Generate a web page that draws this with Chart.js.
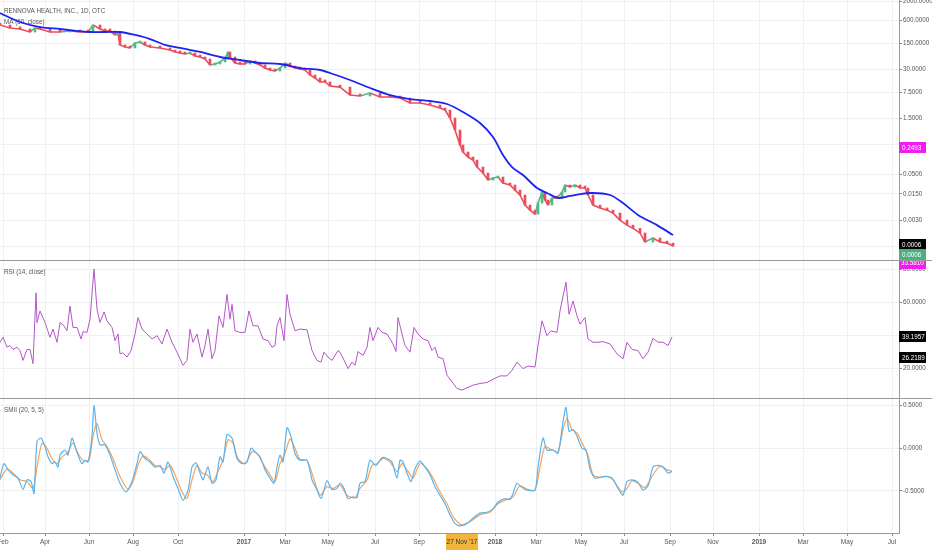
<!DOCTYPE html>
<html>
<head>
<meta charset="utf-8">
<script src="https://cdn.jsdelivr.net/npm/chart.js@4.4.1/dist/chart.umd.min.js"></script>
<style>
  body { margin: 0; background: #fff; overflow: hidden; }
  #wrap { position: relative; width: 932px; height: 550px; }
  canvas { position: absolute; left: 0; }
  .sep { position: absolute; left: 0; width: 932px; height: 1px; background: #9a9a9a; }
</style>
</head>
<body>
<div id="wrap">
  <canvas id="pricePane" width="932" height="260" style="top:0"></canvas>
  <div class="sep" style="top:260px"></div>
  <canvas id="rsiPane" width="932" height="137" style="top:261px"></canvas>
  <div class="sep" style="top:398px"></div>
  <canvas id="smiPane" width="932" height="151" style="top:399px"></canvas>
</div>
<script>
// bar index of each sample (1 bar ~ 1 trading day)
const priceX = [0,10,20,30,35,40,50,60,70,80,88,93,100,105,110,115,118,120,125,130,
  135,140,145,150,160,170,175,180,185,190,195,200,205,210,215,220,225,228,230,235,
  240,245,250,255,260,265,270,275,280,285,290,295,300,305,310,315,320,325,330,340,
  350,360,370,380,390,400,410,420,430,440,445,450,455,460,463,468,473,477,483,488,
  493,498,503,510,515,520,525,530,535,538,542,545,548,552,557,562,565,570,575,580,
  585,588,593,600,607,613,620,627,633,640,645,653,660,667,673];
const priceClose = [461,384,361,300,384,361,300,300,319,300,300,461,361,319,319,250,282,136,120,113,
  153,163,136,120,113,99.8,88.3,83.0,78.0,83.0,69.0,65.0,57.4,39.8,42.3,47.9,61.1,88.3,65.0,45.0,
  42.3,42.3,50.8,45.0,39.8,33.1,29.3,27.5,33.1,45.0,37.4,33.1,31.1,29.3,21.6,17.9,14.1,14.1,11.0,10.3,
  6.34,5.96,7.16,5.61,5.61,5.27,3.88,3.88,3.44,2.86,2.53,1.55,0.743,0.296,0.193,0.142,0.118,0.0771,0.0533,0.0348,
  0.0393,0.0418,0.0290,0.0256,0.0188,0.0139,0.0075,0.0055,0.0043,0.0085,0.0167,0.0102,0.0075,0.0116,0.0116,0.0167,0.0256,0.0226,0.0256,0.0213,
  0.0213,0.0139,0.0075,0.0063,0.0055,0.0046,0.0030,0.0022,0.0018,0.00136,0.00078,0.0010,0.00078,0.00073,0.00061];

const maX = [0,20,40,60,90,120,135,150,165,180,200,220,240,260,280,300,320,330,350,370,
  390,410,430,447,463,480,493,503,512,523,537,547,558,570,590,610,623,638,657,673];
const maVal = [962,553,407,361,300,300,250,195,136,113,88.3,65.0,54.1,45.0,42.3,33.1,29.3,24.4,15.9,9.73,
  6.34,4.96,4.39,3.66,2.24,1.14,0.484,0.161,0.0771,0.0472,0.0213,0.0157,0.0116,0.0131,0.0157,0.0139,0.0085,0.0041,0.0022,0.0012];

const rsiX = [0,3,7,10,13,17,20,23,27,30,33,36,37,40,45,50,53,57,60,64,
  67,70,73,77,81,83,87,90,94,97,100,104,107,112,115,118,120,123,127,131,
  135,138,142,147,152,157,162,167,172,177,183,187,190,193,197,202,205,208,212,215,
  219,223,227,230,232,235,240,245,249,253,258,263,268,272,275,277,280,284,287,290,
  295,300,307,312,317,321,324,328,332,335,338,
  340,345,348,352,355,358,363,367,370,373,378,382,387,390,393,396,398,402,405,410,
  414,418,423,428,432,435,438,443,447,452,457,462,467,473,480,487,493,500,507,512,
  517,523,528,535,538,542,547,551,557,560,563,566,569,573,577,580,585,588,593,598,
  603,610,617,623,627,632,638,643,648,653,658,663,668,672];
const rsiVal = [36,39,33,34,31.6,33,31,25,31.6,31.6,23,66,48,55,48,39,44,36,48,46,
  43,58,45,45,38,42.4,42,50,80.4,56,48,54.4,49,45,37,41,29,29.6,27,31,
  41,51,44,41,38,40,35,44,36,30,22,25,44,36,41,27,34,44,26,31,
  52,45,65,50,59,43,42,42,55,46,46,38,37,33,34,46,51,37,65,53,
  43,44,43.6,31,25,24,30,27,25,28,31,
  30,24,20,24,22,30.4,28,33,45,37,45,42,41,38,35,30.4,51,41,34,30,
  45,41,38,37,31,33,27,26,16,12,8,7,8.4,10,11,11.6,13.6,15.6,15.6,19,
  24,20,21.6,21,34,49,40,43,42,55,64,72.4,53,61,52,47,51,38,36,36,
  36.4,35,29,26,36,31.6,31,26,30,38.4,36,36,34,39.2];

const smiX = [0,4,8,13,18,23,27,31,34,37,41,45,48,52,55,58,60,65,68,72,
  75,78,82,85,88,92,94,97,100,105,110,115,120,126,132,137,140,145,150,155,
  160,164,168,173,178,183,188,192,196,200,203,208,212,216,220,223,227,232,237,242,
  247,251,255,260,265,270,274,277,280,283,287,291,295,300,307,312,317,321,324,327,
  332,337,
  340,344,348,353,357,360,365,370,376,382,387,392,397,400,403,407,411,415,420,425,
  430,435,440,445,450,455,460,467,473,480,487,493,498,505,510,513,517,522,527,535,
  538,543,547,553,558,563,566,569,573,577,582,586,590,595,600,605,612,618,623,627,
  632,638,643,648,653,658,663,668,672];
const smiVal = [-0.35,-0.18,-0.25,-0.31,-0.35,-0.48,-0.37,-0.39,-0.53,0.08,0.12,0.02,-0.10,-0.18,-0.16,-0.22,-0.08,-0.02,-0.08,0.12,
  0.02,-0.08,-0.18,-0.14,-0.16,0.14,0.50,0.18,0.04,0.04,-0.08,-0.25,-0.41,-0.51,-0.39,-0.18,-0.04,-0.12,-0.16,-0.22,
  -0.20,-0.29,-0.16,-0.33,-0.47,-0.61,-0.49,-0.22,-0.17,-0.29,-0.37,-0.22,-0.41,-0.37,-0.10,-0.16,0.16,0.12,-0.12,-0.18,
  -0.16,0.00,-0.04,-0.10,-0.25,-0.35,-0.41,-0.22,-0.08,-0.16,0.24,0.14,-0.06,-0.14,-0.14,-0.37,-0.49,-0.59,-0.49,-0.38,
  -0.48,-0.47,
  -0.41,-0.47,-0.59,-0.57,-0.58,-0.41,-0.39,-0.14,-0.20,-0.11,-0.12,-0.16,-0.35,-0.14,-0.16,-0.29,-0.39,-0.24,-0.15,-0.22,
  -0.31,-0.45,-0.55,-0.65,-0.78,-0.88,-0.91,-0.88,-0.82,-0.76,-0.75,-0.71,-0.63,-0.59,-0.60,-0.53,-0.41,-0.46,-0.49,-0.49,
  -0.22,0.12,-0.02,-0.02,-0.06,0.31,0.48,0.20,0.22,0.14,0.00,-0.02,-0.24,-0.35,-0.34,-0.33,-0.35,-0.47,-0.55,-0.39,
  -0.37,-0.40,-0.49,-0.44,-0.22,-0.20,-0.22,-0.29,-0.27];

const sigX = [0,7,13,20,27,33,37,42,47,52,57,62,67,73,78,83,89,93,97,102,
  107,113,120,128,133,138,143,148,155,160,165,170,175,182,187,192,197,202,207,213,
  218,223,228,233,238,245,252,257,263,270,275,280,285,290,295,300,307,313,320,327,
  333,
  340,347,355,360,367,372,377,383,390,397,402,408,413,420,427,433,440,447,453,462,
  470,480,490,498,507,513,520,527,535,540,545,552,558,563,567,572,577,583,588,593,
  600,607,613,622,627,632,638,645,653,660,667,672];
const sigVal = [-0.37,-0.24,-0.29,-0.37,-0.39,-0.47,-0.22,0.06,0.00,-0.12,-0.18,-0.10,-0.06,0.06,-0.06,-0.14,-0.14,0.14,0.29,0.10,
  0.02,-0.12,-0.33,-0.48,-0.39,-0.20,-0.09,-0.12,-0.20,-0.22,-0.25,-0.20,-0.31,-0.51,-0.59,-0.37,-0.20,-0.29,-0.31,-0.39,
  -0.27,-0.14,0.10,0.06,-0.12,-0.18,-0.04,-0.06,-0.18,-0.31,-0.39,-0.18,-0.06,0.11,0.00,-0.13,-0.14,-0.33,-0.55,-0.45,
  -0.47,
  -0.43,-0.55,-0.58,-0.47,-0.37,-0.20,-0.18,-0.12,-0.16,-0.27,-0.18,-0.27,-0.35,-0.18,-0.24,-0.35,-0.51,-0.65,-0.80,-0.90,
  -0.86,-0.78,-0.75,-0.65,-0.60,-0.57,-0.44,-0.48,-0.49,-0.22,0.02,-0.02,-0.04,0.22,0.35,0.22,0.18,0.04,-0.08,-0.31,
  -0.34,-0.33,-0.37,-0.51,-0.47,-0.38,-0.41,-0.46,-0.31,-0.21,-0.25,-0.27];

// time axis
const tickPos = [3,45,89,133,178,244,285,328,375,419,495,536,581,624,670,713,759,803,847,892];
const tickLabels = ['Feb','Apr','Jun','Aug','Oct','2017','Mar','May','Jul','Sep',
  '2018','Mar','May','Jul','Sep','Nov','2019','Mar','May','Jul'];
const crossX = 462;
const crossLabel = "27 Nov '17";

// axis ticks and last-value tags
const priceTicks = [2000,600,150,30,7.5,1.5,0.3,0.05,0.015,0.003,0.0006];
const rsiTicks = [20,40,60,80];
const smiTicks = [-0.5,0,0.5];
const priceTagVals = [0.2493, 0.00064, 0.00064];
const rsiTagVals = [39.1957, 26.2189];
const rsiTopTag = '33.5810';

const FONT = "'Liberation Sans', Arial, sans-serif";
const UP = '#53b987', DOWN = '#eb4d5c';
const GRID = '#edf1f6';
const TAG_W = 27;

const pts = (xs, ys) => xs.map((x, i) => ({ x: x, y: ys[i] }));

function xAxis(showLabels) {
  return {
    type: 'linear', min: 0, max: 899, offset: false,
    afterBuildTicks: s => { s.ticks = tickPos.map(v => ({ value: v })); },
    afterFit: s => { s.height = showLabels ? 17 : 0; s.paddingLeft = 0; s.paddingRight = 0; },
    grid: { color: GRID, offset: false, drawTicks: showLabels, tickLength: 3, tickColor: '#888' },
    border: { display: showLabels, color: '#9a9a9a' },
    ticks: {
      display: showLabels, autoSkip: false, maxRotation: 0, minRotation: 0, padding: 2, color: '#555',
      font: c => ({ family: FONT, size: 6.5, weight: /^\d{4}$/.test(tickLabels[c.index]) ? 'bold' : 'normal' }),
      callback: (v, i) => tickLabels[i]
    }
  };
}

function yAxis(extra) {
  return Object.assign({
    position: 'right',
    afterFit: s => { s.width = 33; s.paddingTop = 0; s.paddingBottom = 0; },
    grid: { color: GRID, tickLength: 3, tickColor: '#888' },
    border: { color: '#9a9a9a' },
    ticks: { color: '#555', padding: 1, autoSkip: false, font: { family: FONT, size: 6.3 },
      callback: v => Number(v).toFixed(4) }
  }, extra);
}

function legendPlugin(lines) {
  return {
    id: 'legendText',
    beforeDatasetsDraw(chart) {
      const ctx = chart.ctx;
      ctx.save();
      ctx.font = '6.3px ' + FONT;
      ctx.fillStyle = '#555';
      ctx.textBaseline = 'middle';
      lines.forEach((t, i) => ctx.fillText(t, 4, 11.5 + i * 10.5));
      ctx.restore();
    }
  };
}

function tagPlugin(tags, extra) {
  return {
    id: 'tags',
    afterDraw(chart) {
      const ctx = chart.ctx, ys = chart.scales.y, left = chart.chartArea.right;
      let prev = -100;
      ctx.save();
      ctx.font = '6.3px ' + FONT;
      ctx.textBaseline = 'middle';
      tags.forEach(t => {
        let py = Math.round(ys.getPixelForValue(t.value));
        if (py - 5 < prev) py = prev + 5;
        prev = py + 5;
        ctx.fillStyle = t.bg;
        ctx.fillRect(left, py - 6, TAG_W, 11);
        ctx.fillStyle = '#fff';
        ctx.fillText(t.value.toFixed(4), left + 3, py + 0.5);
      });
      if (extra) extra(chart, ctx, left);
      ctx.restore();
    }
  };
}

const base = {
  responsive: false, animation: false,
  layout: { padding: 0 },
  plugins: { legend: { display: false }, tooltip: { enabled: false } }
};

// price pane: candle bodies run from the previous close to the close
const opens = priceClose.map((c, i) => i === 0 ? c : priceClose[i - 1]);
new Chart(document.getElementById('pricePane'), {
  type: 'bar',
  data: {
    datasets: [{
      type: 'line', order: 0,
      data: pts(maX, maVal),
      borderColor: '#1e22f0', borderWidth: 1.8, pointRadius: 0, tension: 0.3
    }, {
      type: 'bar', order: 1,
      data: priceX.map((x, i) => ({ x: x, y: [opens[i], priceClose[i]] })),
      backgroundColor: c => (c.raw && c.raw.y[1] > c.raw.y[0]) ? UP : DOWN,
      barThickness: 2, minBarLength: 2, borderWidth: 0
    }, {
      type: 'line', order: 2,
      data: pts(priceX, priceClose),
      borderWidth: 1.6, pointRadius: 0, tension: 0,
      borderColor: DOWN,
      segment: { borderColor: s => s.p1.parsed.y > s.p0.parsed.y ? UP : DOWN }
    }]
  },
  options: Object.assign({}, base, {
    scales: {
      x: xAxis(false),
      y: yAxis({
        type: 'logarithmic', min: 0.00026, max: 2130,
        afterBuildTicks: s => { s.ticks = priceTicks.map(v => ({ value: v })); }
      })
    }
  }),
  plugins: [
    legendPlugin(['RENNOVA HEALTH, INC., 1D, OTC', 'MA (50, close)']),
    tagPlugin([
      { value: priceTagVals[0], bg: '#f21cf2' },
      { value: priceTagVals[1], bg: '#000000' },
      { value: priceTagVals[2], bg: '#4caf82' }
    ])
  ]
});

// RSI pane
new Chart(document.getElementById('rsiPane'), {
  type: 'line',
  data: {
    datasets: [{
      data: pts(rsiX, rsiVal),
      borderColor: '#b455c8', borderWidth: 1, pointRadius: 0, tension: 0
    }]
  },
  options: Object.assign({}, base, {
    scales: {
      x: xAxis(false),
      y: yAxis({
        type: 'linear', min: 2.2, max: 85.3,
        afterBuildTicks: s => { s.ticks = rsiTicks.map(v => ({ value: v })); }
      })
    }
  }),
  plugins: [
    legendPlugin(['RSI (14, close)']),
    tagPlugin(rsiTagVals.map(v => ({ value: v, bg: '#000000' })), (chart, ctx, left) => {
      ctx.fillStyle = '#f21cf2';
      ctx.fillRect(left, 0, TAG_W, 8);
      ctx.fillStyle = '#fff';
      ctx.fillText(rsiTopTag, left + 2, 2.5);
    })
  ]
});

// SMII pane
new Chart(document.getElementById('smiPane'), {
  type: 'line',
  data: {
    datasets: [{
      data: pts(smiX, smiVal),
      borderColor: '#5ab4ee', borderWidth: 1.2, pointRadius: 0, tension: 0.25
    }, {
      data: pts(sigX, sigVal),
      borderColor: '#f6a25a', borderWidth: 1.2, pointRadius: 0, tension: 0.25
    }]
  },
  options: Object.assign({}, base, {
    scales: {
      x: xAxis(true),
      y: yAxis({
        type: 'linear', min: -0.993, max: 0.578,
        afterBuildTicks: s => { s.ticks = smiTicks.map(v => ({ value: v })); }
      })
    }
  }),
  plugins: [
    legendPlugin(['SMII (20, 5, 5)']),
    {
      id: 'crossLabel',
      afterDraw(chart) {
        const ctx = chart.ctx, px = chart.scales.x.getPixelForValue(crossX);
        const top = chart.chartArea.bottom + 1;
        ctx.save();
        ctx.fillStyle = '#f2b53a';
        ctx.fillRect(px - 16, top, 32, chart.height - top);
        ctx.fillStyle = '#333';
        ctx.font = '6.5px ' + FONT;
        ctx.textAlign = 'center';
        ctx.textBaseline = 'middle';
        ctx.fillText(crossLabel, px, top + 8.5);
        ctx.restore();
      }
    }
  ]
});
</script>
</body>
</html>
